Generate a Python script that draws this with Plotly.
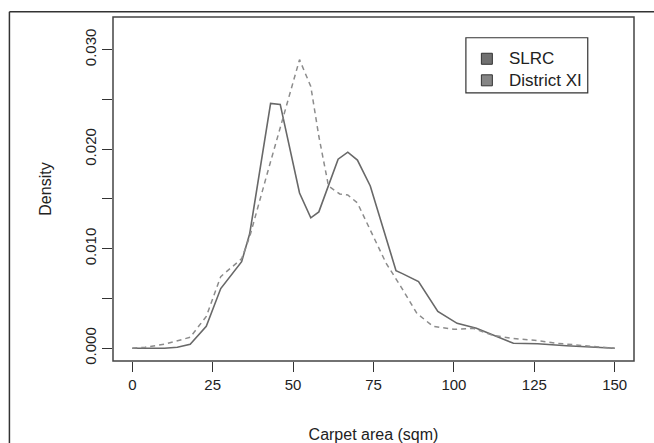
import plotly.graph_objects as go

# SLRC (solid)
slrc_x = [0, 5, 10, 14, 18, 23, 27.5, 34, 36.5, 43, 46, 52, 55.5, 58, 60.5, 64, 67, 70, 74, 78, 82, 84, 89, 95, 101, 107, 113, 118.5, 126, 135, 150]
slrc_y = [0, 0, 0, 0.0001, 0.0004, 0.0022, 0.006, 0.0087, 0.0115, 0.0246, 0.0245, 0.0156, 0.0131, 0.0137, 0.0159, 0.019, 0.0197, 0.0189, 0.0163, 0.012, 0.0078, 0.0075, 0.0067, 0.0037, 0.0025, 0.002, 0.0012, 0.0005, 0.00045, 0.00025, 0.0]

# District XI (dashed)
dxi_x = [0, 4, 10, 18, 23, 27.5, 34, 36.5, 42, 47, 52, 55.5, 58, 61, 64.5, 67, 70, 75, 79, 83.5, 88.5, 93.5, 100, 106, 112, 118, 125, 132, 140, 150]
dxi_y = [0, 0.0001, 0.0004, 0.0011, 0.0032, 0.0072, 0.009, 0.0112, 0.0176, 0.0233, 0.029, 0.0263, 0.0213, 0.0163, 0.0155, 0.0154, 0.0146, 0.0112, 0.0085, 0.0062, 0.0035, 0.0022, 0.0019, 0.002, 0.0013, 0.001, 0.0008, 0.0005, 0.0003, 0.0]

series_names = ["SLRC", "District XI"]
legend_fill = ["#707070", "#858585"]
x_ticks = [0, 25, 50, 75, 100, 125, 150]
y_ticks = [0, 0.005, 0.010, 0.015, 0.020, 0.025, 0.030]
y_ticktext = ["0.000", "", "0.010", "", "0.020", "", "0.030"]

FONT = "Liberation Sans, Arial, sans-serif"

fig = go.Figure()
fig.add_trace(go.Scatter(x=slrc_x, y=slrc_y, mode="lines", name=series_names[0],
                         line=dict(color="#686868", width=1.6), showlegend=False))
fig.add_trace(go.Scatter(x=dxi_x, y=dxi_y, mode="lines", name=series_names[1],
                         line=dict(color="#8c8c8c", width=1.5, dash="5px,4px"), showlegend=False))

W, H = 654, 443
L, R, T, B = 112.7, 19.7, 17.3, 82.3
pw, ph = W - L - R, H - T - B

def px(xp):
    return (xp - L) / pw

def py(yp):
    return (H - B - yp) / ph

shapes = [
    dict(type="rect", xref="paper", yref="paper", x0=0, x1=1, y0=0, y1=1,
         line=dict(color="#444444", width=1.5)),
    dict(type="line", xref="paper", yref="paper", x0=px(9), x1=px(660), y0=py(12), y1=py(12),
         line=dict(color="#333333", width=1.5)),
    dict(type="line", xref="paper", yref="paper", x0=px(9), x1=px(9), y0=py(12), y1=py(450),
         line=dict(color="#333333", width=1.5)),
    # legend box
    dict(type="rect", xref="paper", yref="paper", x0=px(466), x1=px(588), y0=py(93), y1=py(38),
         line=dict(color="#333333", width=1.2), fillcolor="white"),
]
annotations = []
legend_rows = [59, 80.5]
for name, col, yc in zip(series_names, legend_fill, legend_rows):
    shapes.append(dict(type="rect", xref="paper", yref="paper",
                       x0=px(481.5), x1=px(492.5), y0=py(yc + 5.5), y1=py(yc - 5.5),
                       line=dict(color="#333333", width=1), fillcolor=col))
    annotations.append(dict(text=name, xref="paper", yref="paper", x=px(507), y=py(yc),
                            xanchor="left", yanchor="middle", showarrow=False,
                            font=dict(size=17, color="#222222", family=FONT)))

fig.update_layout(
    width=W, height=H,
    margin=dict(l=L, r=R, t=T, b=B, pad=0, autoexpand=False),
    paper_bgcolor="white", plot_bgcolor="white",
    font=dict(family=FONT, size=15, color="#222222"),
    showlegend=False,
    xaxis=dict(range=[-6, 156], tickvals=x_ticks, ticks="outside", ticklen=10,
               tickwidth=1.2, tickcolor="#333333", showgrid=False, zeroline=False,
               showline=False, tickfont=dict(size=15), automargin=False,
               title=dict(text="Carpet area (sqm)", standoff=36, font=dict(size=16))),
    yaxis=dict(range=[-0.00128, 0.03328], tickvals=y_ticks, ticktext=y_ticktext,
               ticks="outside", ticklen=10, tickwidth=1.2, tickcolor="#333333",
               tickangle=-90, showgrid=False, zeroline=False, showline=False,
               tickfont=dict(size=15), automargin=False,
               title=dict(text="Density", standoff=26, font=dict(size=16))),
    shapes=shapes,
    annotations=annotations,
)

fig.write_html("out.html")
